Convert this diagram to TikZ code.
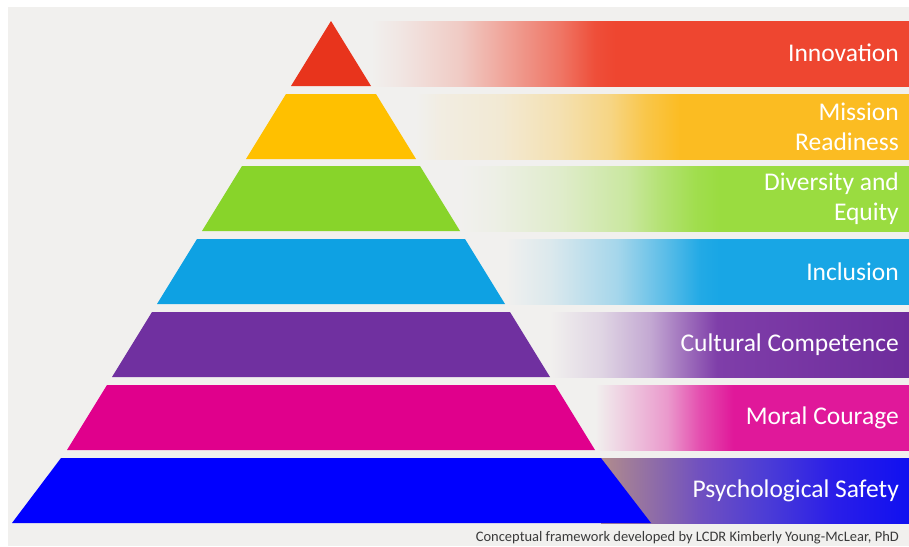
\documentclass[tikz,border=0pt]{standalone}
\usepackage{fontspec}
\setmainfont{Carlito}
\usetikzlibrary{positioning}
\definecolor{pagebg}{HTML}{F1F0EE}
\definecolor{tierred}{HTML}{E8341C}
\definecolor{barred}{HTML}{EE4630}
\definecolor{tieryellow}{HTML}{FFC000}
\definecolor{baryellow}{HTML}{FBBC22}
\definecolor{tiergreen}{HTML}{88D42A}
\definecolor{bargreen}{HTML}{9ADC40}
\definecolor{tiercyan}{HTML}{0EA1E3}
\definecolor{barcyan}{HTML}{18A6E5}
\definecolor{tierpurple}{HTML}{7030A0}
\definecolor{barpurple}{HTML}{7F3EA9}
\definecolor{barpurpledeep}{HTML}{6E2C9C}
\definecolor{tiermagenta}{HTML}{E0008C}
\definecolor{barmagenta}{HTML}{E0189A}
\definecolor{tierblue}{HTML}{0000FF}
\definecolor{textgray}{HTML}{3A3A3A}

% fading bars: the bar itself spans 25bp..75bp of each shading
\pgfdeclarehorizontalshading{redfade}{100bp}{
  color(0bp)=(pagebg); color(25bp)=(pagebg);
  color(27.7bp)=(barred!6!pagebg); color(33.3bp)=(barred!22!pagebg);
  color(37.9bp)=(barred!47!pagebg); color(42.6bp)=(barred!72!pagebg);
  color(45.8bp)=(barred!95!pagebg); color(47.7bp)=(barred);
  color(75bp)=(barred); color(100bp)=(barred)}
\pgfdeclarehorizontalshading{yellowfade}{100bp}{
  color(0bp)=(pagebg); color(25bp)=(pagebg);
  color(27.4bp)=(baryellow!6!pagebg); color(33.5bp)=(baryellow!13!pagebg);
  color(39.6bp)=(baryellow!30!pagebg); color(44.7bp)=(baryellow!52!pagebg);
  color(48.2bp)=(baryellow!80!pagebg); color(51.8bp)=(baryellow);
  color(75bp)=(baryellow); color(100bp)=(baryellow)}
\pgfdeclarehorizontalshading{greenfade}{100bp}{
  color(0bp)=(pagebg); color(25bp)=(pagebg);
  color(28.9bp)=(bargreen!5!pagebg); color(36.1bp)=(bargreen!20!pagebg);
  color(43.6bp)=(bargreen!45!pagebg); color(47.3bp)=(bargreen!70!pagebg);
  color(51.2bp)=(bargreen!92!pagebg); color(54bp)=(bargreen);
  color(75bp)=(bargreen); color(100bp)=(bargreen)}
\pgfdeclarehorizontalshading{cyanfade}{100bp}{
  color(0bp)=(pagebg); color(25bp)=(pagebg);
  color(30.6bp)=(barcyan!10!pagebg); color(38.9bp)=(barcyan!35!pagebg);
  color(45bp)=(barcyan!70!pagebg); color(49.1bp)=(barcyan!95!pagebg);
  color(51.6bp)=(barcyan);
  color(75bp)=(barcyan); color(100bp)=(barcyan)}
\pgfdeclarehorizontalshading{purplefade}{100bp}{
  color(0bp)=(pagebg); color(25bp)=(pagebg);
  color(32bp)=(barpurple!15!pagebg); color(38.9bp)=(barpurple!40!pagebg);
  color(43.5bp)=(barpurple!70!pagebg); color(48.3bp)=(barpurple);
  color(75bp)=(barpurpledeep); color(100bp)=(barpurpledeep)}
\pgfdeclarehorizontalshading{magentafade}{100bp}{
  color(0bp)=(pagebg); color(25bp)=(pagebg);
  color(28.5bp)=(barmagenta!12!pagebg); color(36.5bp)=(barmagenta!40!pagebg);
  color(41.7bp)=(barmagenta!75!pagebg); color(47bp)=(barmagenta);
  color(75bp)=(barmagenta); color(100bp)=(barmagenta)}
\pgfdeclarehorizontalshading{bluefade}{100bp}{
  color(0bp)=(rgb,255:red,177;green,140;blue,140); color(25bp)=(rgb,255:red,177;green,140;blue,140);
  color(41.1bp)=(rgb,255:red,112;green,80;blue,192);
  color(52bp)=(rgb,255:red,75;green,60;blue,214);
  color(62.7bp)=(rgb,255:red,42;green,30;blue,232);
  color(75bp)=(rgb,255:red,16;green,16;blue,240); color(100bp)=(rgb,255:red,16;green,16;blue,240)}

\begin{document}
\begin{tikzpicture}[
    x=1pt, y=-1pt,
    tier/.style={fill=#1},
    fadebar/.style={shading=#1},
    tiertext/.style={
        anchor=east,
        align=right,
        inner sep=0pt,
        text=white,
        font=\fontsize{25.5}{30}\selectfont
    },
    credit/.style={
        anchor=base east,
        inner sep=0pt,
        text=textgray,
        font=\fontsize{14.5}{16}\selectfont
    }
]

% page and backdrop
\fill[white] (0,0) rectangle (909,546);
\fill[pagebg] (8,7) rectangle (909,546);
\useasboundingbox (0,0) rectangle (909,546);

% fading bars behind the pyramid
\shade[fadebar=redfade] (371,21) rectangle (909,86);
\shade[fadebar=yellowfade] (416,94) rectangle (909,159);
\shade[fadebar=greenfade] (460,166) rectangle (909,231);
\shade[fadebar=cyanfade] (505,239) rectangle (909,304);
\shade[fadebar=purplefade] (550,312) rectangle (909,377);
\shade[fadebar=magentafade] (595,385) rectangle (909,450);
\shade[fadebar=bluefade] (601,458) rectangle (909,523);

% pyramid tiers
\fill[tier=tierred] (331,21) -- (371,86) -- (291,86) -- cycle;
\fill[tier=tieryellow] (286,94) -- (376,94) -- (416,159) -- (246,159) -- cycle;
\fill[tier=tiergreen] (242,166) -- (420,166) -- (460,231) -- (202,231) -- cycle;
\fill[tier=tiercyan] (197,239) -- (465,239) -- (505,304) -- (157,304) -- cycle;
\fill[tier=tierpurple] (152,312) -- (510,312) -- (550,377) -- (112,377) -- cycle;
\fill[tier=tiermagenta] (107,385) -- (555,385) -- (595,450) -- (67,450) -- cycle;
\fill[tier=tierblue] (61,458) -- (601,458) -- (651,523) -- (12,523) -- cycle;

% tier labels
\node[tiertext] (innovation) at (899,53) {Innovation};
\node[tiertext] (mission) at (899,126.5) {Mission\\Readiness};
\node[tiertext] (diversity) at (899,199) {Diversity and\\Equity};
\node[tiertext] (inclusion) at (899,271.5) {Inclusion};
\node[tiertext] (cultural) at (899,344.5) {Cultural Competence};
\node[tiertext] (courage) at (899,417.5) {Moral Courage};
\node[tiertext] (safety) at (899,490.5) {Psychological Safety};

\node[credit] (framework) at (899,541)
{Conceptual framework developed by LCDR Kimberly Young-McLear, PhD};

\end{tikzpicture}
\end{document}
